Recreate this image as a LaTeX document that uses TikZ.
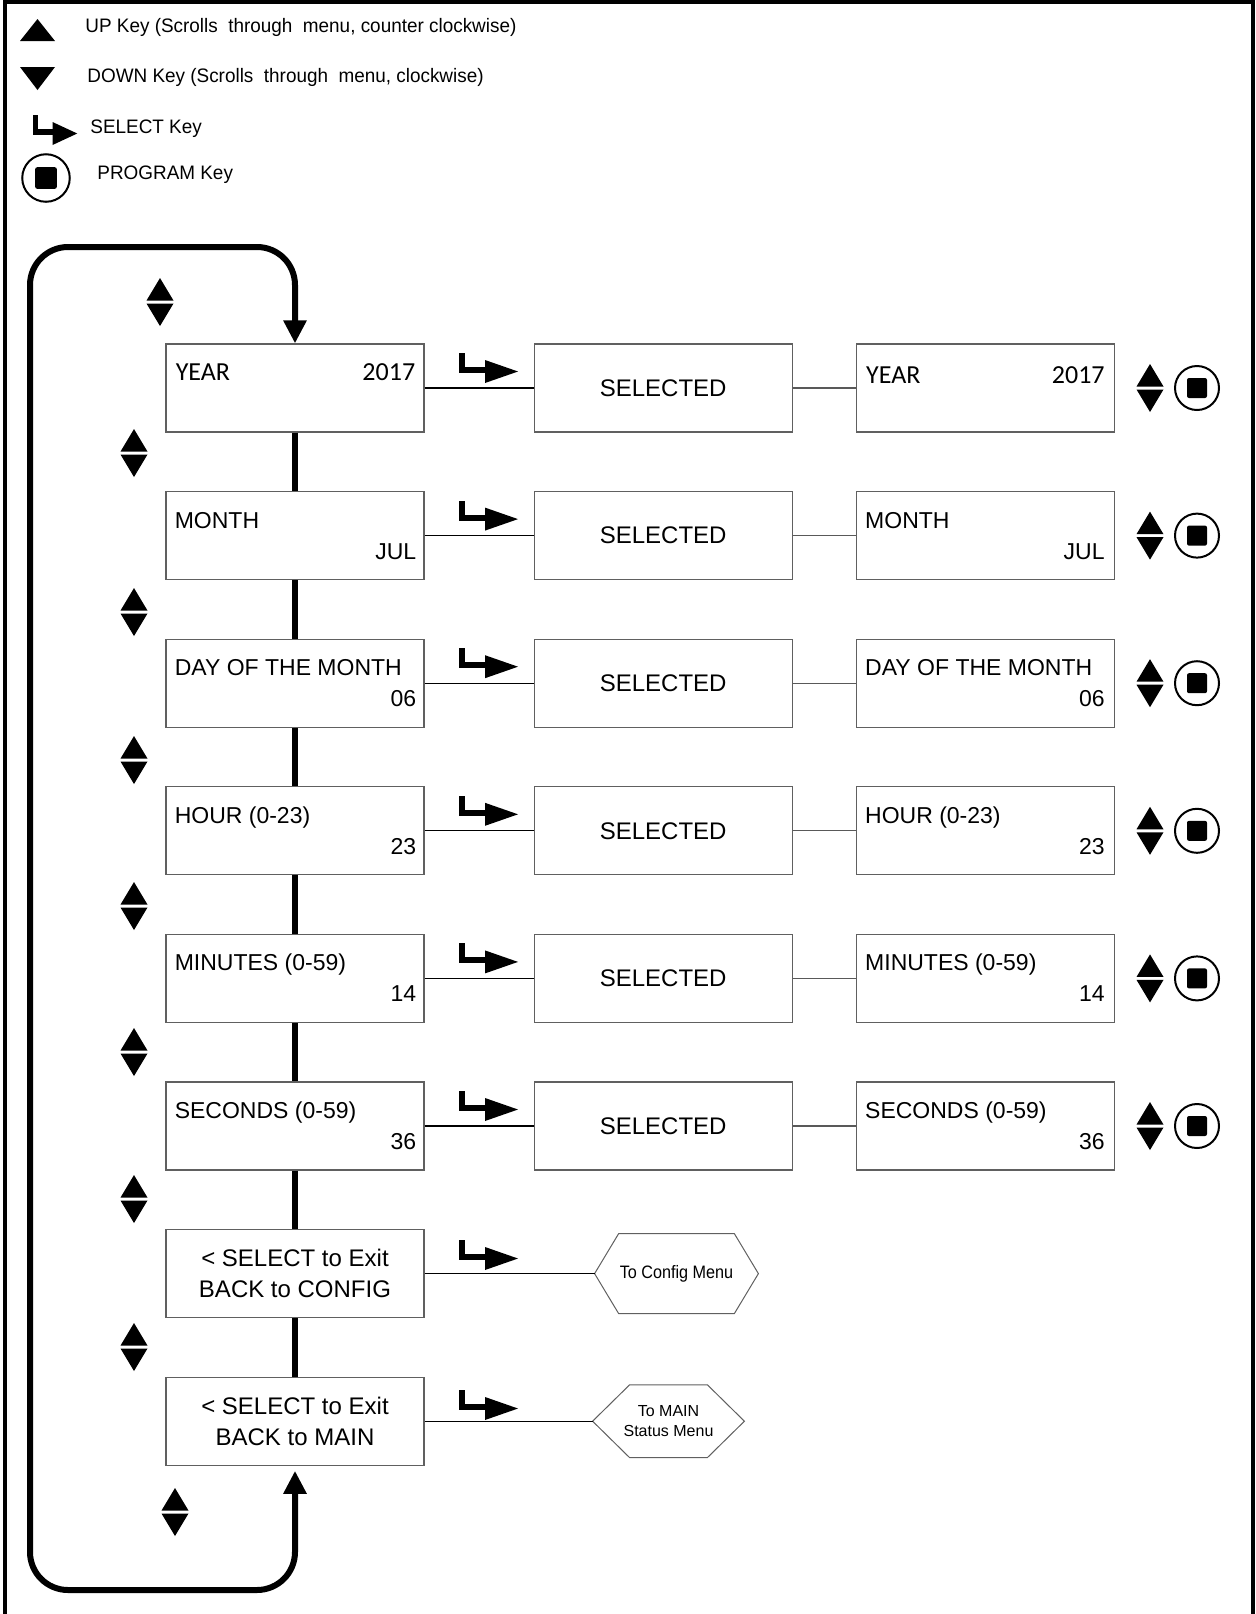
\documentclass[tikz,border=0pt]{standalone}
\usepackage{fontspec}
\setmainfont{Liberation Sans}
\newfontfamily\calfont{Carlito}
\newfontfamily\narrowfont[FakeStretch=0.97]{Liberation Sans}
\newfontfamily\hexfont[FakeStretch=0.9]{Liberation Sans}
\usetikzlibrary{positioning,arrows.meta,calc}

\tikzset{
  menubox/.style={draw=gray!75!black, line width=0.6pt, minimum width=129pt, minimum height=44pt, inner sep=0pt, font=\fontsize{12}{14}\selectfont},
  boxtext/.style={inner sep=0pt, font=\fontsize{11.5}{14}\selectfont},
  yeartext/.style={inner sep=0pt, font=\calfont\fontsize{13}{15}\selectfont},
  legendtext/.style={inner sep=0pt, anchor=west, font=\narrowfont\fontsize{9.75}{12}\selectfont},
  hexbox/.style={inner sep=0pt, align=center},
  hexline/.style={draw=gray!75!black, line width=0.5pt},
  link/.style={line width=0.6pt},
  scroll/.style={line width=3pt},
  selectkey/.pic={
    \fill (0,0) rectangle (6,20);
    \fill (0,14) rectangle (27,20);
    \fill (26,7) -- (59,18.5) -- (26,30) -- cycle;
  },
  updown/.pic={
    \fill (-13.5,-1.5) -- (0,-24) -- (13.5,-1.5) -- cycle;
    \fill (-13.5,1.5) -- (0,24) -- (13.5,1.5) -- cycle;
  },
  progkey/.pic={
    \draw[line width=1pt] (0,0) circle [radius=22];
    \fill[rounded corners=1pt] (-10,-10) rectangle (10,10);
  },
}

\begin{document}
\begin{tikzpicture}[x=0.5pt, y=-0.5pt]
\useasboundingbox (0,0) rectangle (1255,1614);
\draw[line width=2pt] (5,1614) -- (5,2) -- (1253,2) -- (1253,1614);

% legend
\fill (20,41) -- (37.5,19) -- (55,41) -- cycle;
\node[legendtext] (upKey) at (85,27) {UP Key (Scrolls\ \ through\ \ menu,\ counter clockwise)};
\fill (20,67) -- (37.5,90) -- (55,67) -- cycle;
\node[legendtext] (downKey) at (87,77) {DOWN Key (Scrolls\ \ through\ \ menu,\ clockwise)};
\pic[xscale=0.75] at (33,115) {selectkey};
\node[legendtext] (selKey) at (90,129) {SELECT Key};
\pic[scale=1.08] at (46,178) {progkey};
\node[legendtext] (progKey) at (97,175) {PROGRAM Key};

% year row
\node[menubox] (Lyear) at (295,388) {};
\node[menubox, right=54.5pt of Lyear] (Syear) {SELECTED};
\node[menubox, right=31.5pt of Syear] (Ryear) {};
\node[yeartext, anchor=base west] (tLyear) at ($(Lyear.north west)+(10,37)$) {YEAR};
\node[yeartext, anchor=base east] (vLyear) at ($(Lyear.north east)+(-9,37)$) {2017};
\node[yeartext, anchor=base west] (tRyear) at ($(Ryear.north west)+(10,40)$) {YEAR};
\node[yeartext, anchor=base east] (vRyear) at ($(Ryear.north east)+(-10,40)$) {2017};
\draw[link] (Lyear) -- (Syear);
\draw[link, gray!70!black] (Syear) -- (Ryear);
\pic at (459,353) {selectkey};
\pic at (1150,388) {updown};
\pic at (1197,388) {progkey};

% other value rows
\foreach \n/\lab/\val [count=\i] in {month/MONTH/JUL, day/DAY OF THE MONTH/06,
    hour/HOUR (0-23)/23, min/MINUTES (0-59)/14, sec/SECONDS (0-59)/36} {
  \node[menubox] (L\n) at (295,388+147.6*\i) {};
  \node[menubox, right=54.5pt of L\n] (S\n) {SELECTED};
  \node[menubox, right=31.5pt of S\n] (R\n) {};
  \node[boxtext, anchor=base west] (tL\n) at ($(L\n.north west)+(9,37)$) {\lab};
  \node[boxtext, anchor=base east] (vL\n) at ($(L\n.north east)+(-8,68)$) {\val};
  \node[boxtext, anchor=base west] (tR\n) at ($(R\n.north west)+(9,37)$) {\lab};
  \node[boxtext, anchor=base east] (vR\n) at ($(R\n.north east)+(-10,68)$) {\val};
  \draw[link] (L\n) -- (S\n);
  \draw[link, gray!70!black] (S\n) -- (R\n);
  \pic at (459,353+147.6*\i) {selectkey};
  \pic at (1150,388+147.6*\i) {updown};
  \pic at (1197,388+147.6*\i) {progkey};
}

% exit rows
\node[menubox, align=center] (Lconfig) at (295,1273.6) {< SELECT to Exit\\[1.5pt]BACK to CONFIG};
\node[hexbox, minimum width=81.5pt, minimum height=39.5pt, right=85pt of Lconfig,
  font=\hexfont\fontsize{9}{10}\selectfont] (toConfig) {To Config Menu};
\draw[hexline] (toConfig.west) -- ($(toConfig.north west)+(24,0)$) -- ($(toConfig.north east)+(-24,0)$)
  -- (toConfig.east) -- ($(toConfig.south east)+(-24,0)$) -- ($(toConfig.south west)+(24,0)$) -- cycle;
\draw[link] (Lconfig) -- (toConfig);
\pic at (459,1240) {selectkey};

\node[menubox, align=center] (Lmain) at (295,1421.2) {< SELECT to Exit\\[1.5pt]BACK to MAIN};
\node[hexbox, minimum width=75.5pt, minimum height=36pt, right=84pt of Lmain,
  font=\fontsize{8}{10}\selectfont] (toMain) {To MAIN\\Status Menu};
\draw[hexline] (toMain.west) -- ($(toMain.north west)+(37,0)$) -- ($(toMain.north east)+(-37,0)$)
  -- (toMain.east) -- ($(toMain.south east)+(-37,0)$) -- ($(toMain.south west)+(37,0)$) -- cycle;
\draw[link] (Lmain) -- (toMain);
\pic at (459,1390) {selectkey};

% scroll chain
\foreach \a/\b in {year/month, month/day, day/hour, hour/min, min/sec, sec/config, config/main}
  \draw[scroll] (L\a.south) -- (L\b.north);
\draw[scroll, rounded corners=19pt, {Triangle[length=11.5pt, width=11pt]}-{Triangle[length=11.5pt, width=11pt]}, shorten <=2.5pt]
  (Lmain.south) -- (Lmain.south |- 0,1590) -- (30,1590) -- (30,247) -- (Lyear.north |- 0,247) -- (Lyear.north);

% scroll keys left
\pic at (160,302) {updown};
\foreach \y in {453, 612, 760, 906, 1052, 1199, 1347}
  \pic at (134,\y) {updown};
\pic at (175,1512) {updown};
\end{tikzpicture}
\end{document}
